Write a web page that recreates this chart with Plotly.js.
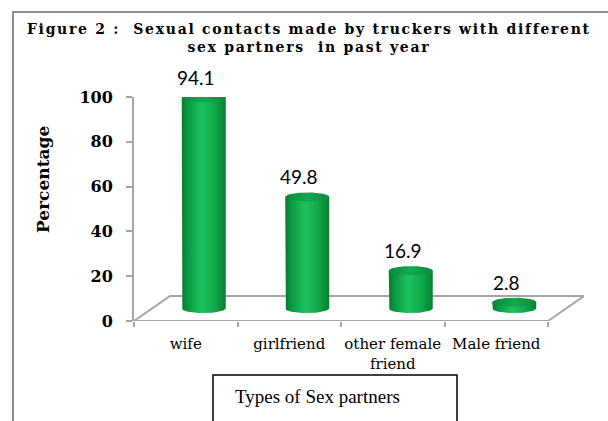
<!DOCTYPE html>
<html>
<head>
<meta charset="utf-8">
<script src="https://cdn.plot.ly/plotly-3.0.1.min.js"></script>
<style>
  html, body { margin: 0; padding: 0; background: #fff; }
  #chart { width: 608px; height: 421px; }
  .gtitle { letter-spacing: 1.7px; }
</style>
</head>
<body>
<div id="chart"></div>
<script>
// ---- data ----
var categories = ['wife', 'girlfriend', 'other female<br>friend', 'Male friend'];
var percentages = [94.1, 49.8, 16.9, 2.8];
var valueLabels = ['94.1', '49.8', '16.9', '2.8'];
var yTicks = [0, 20, 40, 60, 80, 100];

// ---- geometry / style ----
var W = 608, H = 421;
var M = {l: 134, r: 24, t: 97, b: 100};
var plotW = W - M.l - M.r, plotH = H - M.t - M.b;
var depthPxX = 36, depthPxY = 25;
var xmin = -0.5, xFront = categories.length - 0.5;
var pxPerX = (548 - M.l) / (xFront - xmin);
var xmax = xmin + plotW / pxPerX;
var ymin = 0, ymax = 100;
var pxPerY = plotH / (ymax - ymin);
var dx = depthPxX / pxPerX, dy = depthPxY / pxPerY;
var rXpx = 22, rYpx = 4.5;
var rX = rXpx / pxPerX, rY = rYpx / pxPerY;
var gray = '#a6a6a6';

function px2paperX(p) { return (p - M.l) / plotW; }
function px2paperY(p) { return (H - M.b - p) / plotH; }

var traces = [];

// floor
traces.push({
  type: 'scatter', mode: 'lines', hoverinfo: 'skip', showlegend: false,
  x: [xmin, xFront, xFront + dx, xmin + dx, xmin],
  y: [0, 0, dy, dy, 0],
  line: {color: gray, width: 2},
  fill: 'toself', fillcolor: 'rgba(255,255,255,0)'
});

var N = 40;
percentages.forEach(function (v, i) {
  var cx = i + dx / 2, y0 = dy / 2, y1 = v + dy / 2;
  // body
  var bx = [cx - rX], by = [y1];
  for (var k = 0; k <= N; k++) {
    var t = Math.PI * k / N;
    bx.push(cx - rX * Math.cos(t));
    by.push(y0 - rY * Math.sin(t));
  }
  bx.push(cx + rX); by.push(y1); bx.push(cx - rX); by.push(y1);
  traces.push({
    type: 'scatter', mode: 'lines', hoverinfo: 'skip', showlegend: false,
    x: bx, y: by, line: {width: 0, color: 'rgba(0,0,0,0)'},
    fill: 'toself',
    fillgradient: {type: 'horizontal',
      colorscale: [[0, '#067a2c'], [0.12, '#0a9640'], [0.45, '#1cc25c'], [0.75, '#10a84a'], [1, '#077f30']]}
  });
  // top ellipse
  var ex = [], ey = [];
  for (var k = 0; k <= 2 * N; k++) {
    var t = Math.PI * k / N;
    ex.push(cx + rX * Math.cos(t));
    ey.push(y1 + rY * Math.sin(t));
  }
  traces.push({
    type: 'scatter', mode: 'lines', hoverinfo: 'skip', showlegend: false,
    x: ex, y: ey, line: {width: 0, color: 'rgba(0,0,0,0)'},
    fill: 'toself',
    fillgradient: {type: 'horizontal',
      colorscale: [[0, '#0a8a38'], [0.5, '#14a850'], [1, '#0a8a38']]}
  });
});

// value labels: anchored at the cylinder top centre, lifted above the top ellipse
var valueAnnotations = percentages.map(function (v, i) {
  return {
    xref: 'x', yref: 'y', x: i + dx / 2 - 0.075, y: v + dy / 2,
    xanchor: 'center', yanchor: 'bottom', yshift: rYpx + 2, showarrow: false,
    text: valueLabels[i],
    font: {family: 'Lato, sans-serif', size: 19, color: '#000'}
  };
});

var layout = {
  width: W, height: H,
  margin: M,
  paper_bgcolor: '#fff', plot_bgcolor: 'rgba(0,0,0,0)',
  showlegend: false,
  title: {
    text: 'Figure 2 :  Sexual contacts made by truckers with different<br>sex partners  in past year',
    font: {family: 'DejaVu Serif', size: 14, color: '#000', weight: 'bold'},
    x: 0.508, xanchor: 'center', xref: 'container',
    y: 0.92, yanchor: 'top', yref: 'container'
  },
  xaxis: {
    range: [xmin, xmax], showgrid: false, zeroline: false, showline: false,
    tickmode: 'array', tickvals: categories.map(function (c, i) { return i; }),
    ticktext: categories, ticks: '', ticklabelstandoff: 12,
    tickfont: {family: 'DejaVu Serif', size: 15, color: '#000'},
    minor: {tickmode: 'array', tickvals: [-0.5, 0.5, 1.5, 2.5, 3.5], ticks: 'outside', ticklen: 5, tickcolor: gray, tickwidth: 2},
    fixedrange: true
  },
  yaxis: {
    range: [ymin, ymax], showgrid: false, zeroline: false,
    showline: true, linecolor: gray, linewidth: 2,
    tickmode: 'array', tickvals: yTicks, ticks: 'outside', ticklen: 6, tickcolor: gray, tickwidth: 2,
    ticklabelstandoff: 10,
    tickfont: {family: 'DejaVu Serif', size: 16, color: '#000', weight: 'bold'},
    fixedrange: true
  },
  shapes: [
    {type: 'line', xref: 'paper', yref: 'paper', layer: 'below',
      x0: px2paperX(12), x1: px2paperX(610), y0: px2paperY(12), y1: px2paperY(12),
      line: {color: '#8c8c8c', width: 2}},
    {type: 'line', xref: 'paper', yref: 'paper', layer: 'below',
      x0: px2paperX(13), x1: px2paperX(13), y0: px2paperY(12), y1: px2paperY(425),
      line: {color: '#8c8c8c', width: 2}},
    {type: 'rect', xref: 'paper', yref: 'paper', layer: 'below',
      x0: px2paperX(213), x1: px2paperX(457), y0: px2paperY(375), y1: px2paperY(430),
      line: {color: '#000', width: 1.5}, fillcolor: 'rgba(0,0,0,0)'}
  ],
  annotations: valueAnnotations.concat([
    {xref: 'paper', yref: 'paper', x: px2paperX(233), y: px2paperY(396),
      xanchor: 'left', yanchor: 'middle', showarrow: false,
      text: 'Types of Sex partners',
      font: {family: 'Liberation Serif', size: 19, color: '#000'}},
    {xref: 'paper', yref: 'paper', x: px2paperX(43), y: px2paperY(180),
      xanchor: 'center', yanchor: 'middle', showarrow: false, textangle: -90,
      text: 'Percentage',
      font: {family: 'DejaVu Serif', size: 17, color: '#000', weight: 'bold'}}
  ])
};

Plotly.newPlot('chart', traces, layout, {displayModeBar: false, staticPlot: true});
</script>
</body>
</html>
